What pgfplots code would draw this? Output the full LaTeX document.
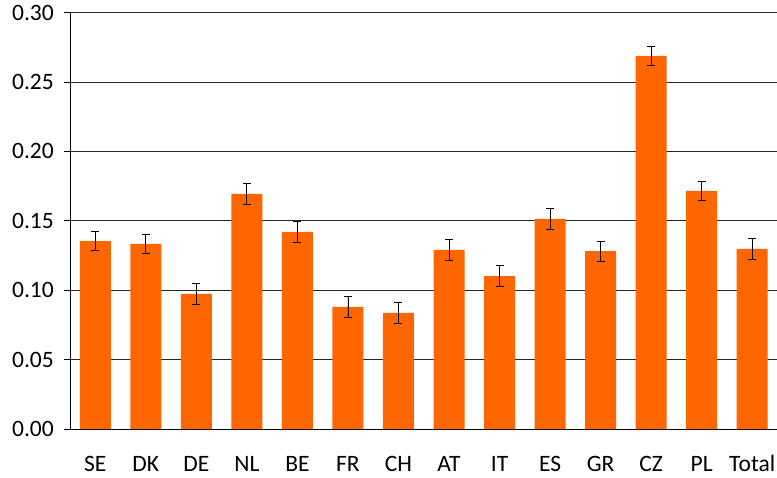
\documentclass[border=0pt]{standalone}
\usepackage{pgfplots}
\pgfplotsset{compat=1.18}
\usepackage{fontspec}
\setmainfont{Carlito}
\definecolor{barorange}{RGB}{255,102,0}
\begin{document}
\begin{tikzpicture}
\useasboundingbox (-70pt,-48pt) rectangle (707pt,429pt);
\begin{axis}[
  at={(0,0)}, anchor=south west,
  scale only axis, width=707.5pt, height=416.5pt,
  xmin=-0.5, xmax=13.5, ymin=0, ymax=0.30,
  axis x line*=bottom, axis y line*=left,
  axis line style={black, line width=0.8pt, -},
  xtick={0,1,2,3,4,5,6,7,8,9,10,11,12,13},
  xticklabels={SE,DK,DE,NL,BE,FR,CH,AT,IT,ES,GR,CZ,PL,Total},
  xtick style={draw=none},
  ytick={0,0.05,0.10,0.15,0.20,0.25,0.30},
  ytick align=outside, major tick length=6pt,
  ytick style={black, line width=0.8pt},
  /pgf/number format/assume math mode=true,
  yticklabel style={/pgf/number format/fixed, /pgf/number format/fixed zerofill, /pgf/number format/precision=2, anchor=east, inner sep=0pt, xshift=-10pt},
  tick label style={font=\fontsize{23.5}{28}\selectfont},
  xticklabel style={anchor=base, yshift=-42pt},
  ymajorgrids, grid style={black!85, line width=0.8pt},
]
\addplot[ybar, bar width=31pt, fill=barorange, draw=none,
  error bars/.cd, y dir=both, y explicit,
  error bar style={black, line width=0.8pt},
  error mark options={rotate=90, mark size=4pt, black, line width=0.8pt}]
  table[x=x, y=y, y error=e] {
x y e
0 0.1354 0.0070
1 0.1333 0.0070
2 0.0973 0.0075
3 0.1693 0.0075
4 0.1419 0.0073
5 0.0879 0.0075
6 0.0836 0.0078
7 0.1290 0.0075
8 0.1102 0.0075
9 0.1513 0.0074
10 0.1282 0.0072
11 0.2687 0.0071
12 0.1715 0.0071
13 0.1297 0.0076
};
\end{axis}
\end{tikzpicture}
\end{document}
